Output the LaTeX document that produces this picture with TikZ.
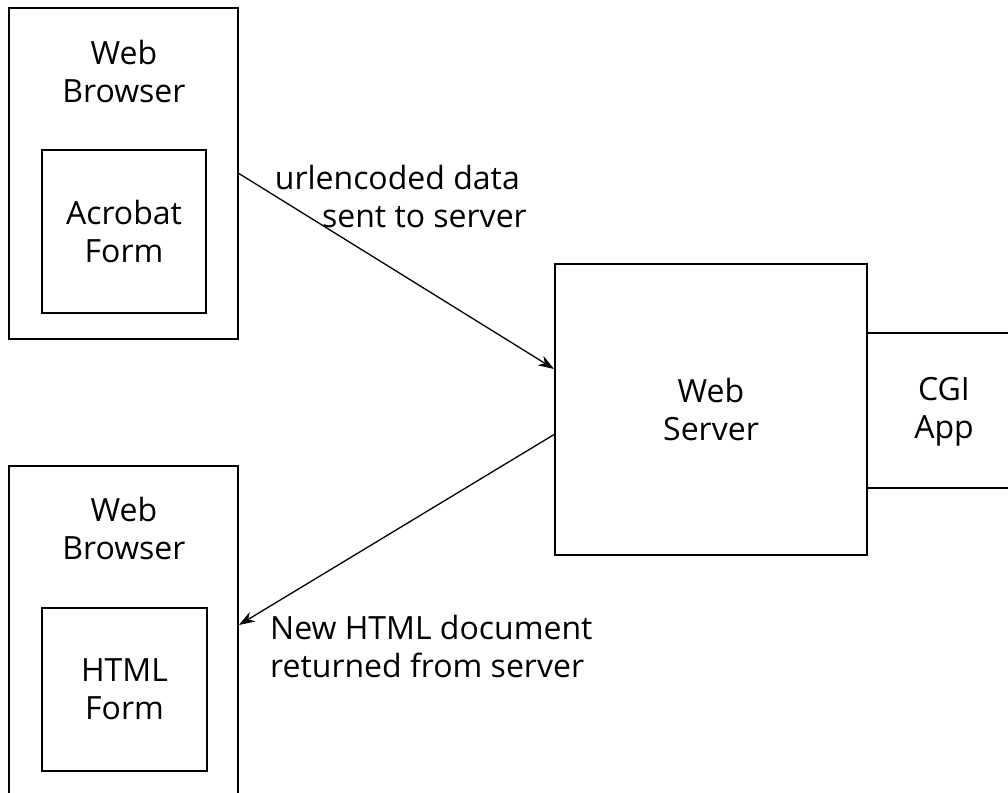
\documentclass[tikz,border=0pt]{standalone}
\usepackage{fontspec}
\setmainfont{Open Sans}
\usetikzlibrary{arrows.meta}
\begin{document}
\begin{tikzpicture}[x=1pt,y=-1pt,
  box/.style={draw,line width=1.8pt,rectangle,inner sep=0pt,
    font=\fontsize{32}{38}\selectfont,align=center},
  lbl/.style={font=\fontsize{32}{38}\selectfont,inner sep=0pt},
  conn/.style={line width=1.3pt,-{Stealth[length=16pt,width=11pt]}}]
\clip (0,0) rectangle (1008,792);
% top browser
\node[box,minimum width=229pt,minimum height=331pt] (tb) at (123.5,173.5) {};
\node[lbl,align=center] (tbt) at (124,71) {Web\\Browser};
\node[box,minimum width=164pt,minimum height=163pt] (af) at (124,231.5) {Acrobat\\Form};
% bottom browser
\node[box,minimum width=229pt,minimum height=334pt] (bb) at (123.5,633) {};
\node[lbl,align=center] (bbt) at (124,528) {Web\\Browser};
\node[box,minimum width=165pt,minimum height=163pt] (hf) at (124.5,689.5) {HTML\\Form};
% server and CGI
\node[box,minimum width=312pt,minimum height=291pt] (srv) at (711,409.5) {Web\\Server};
\node[box,minimum width=153pt,minimum height=155pt] (cgi) at (943.5,410.5) {};
\node[lbl,align=center] (cgit) at (944,412) {CGI\\App};
% connectors
\draw[conn] (tb.east) -- ([yshift=40.5pt]srv.west);
\draw[conn] ([yshift=-25pt]srv.west) -- ([yshift=8pt]bb.east);
% labels
\node[lbl,align=right,anchor=east] (l1) at (527,196) {urlencoded data\hspace*{7pt}\\sent to server};
\node[lbl,align=left,anchor=west] (l2) at (270,646) {New HTML document\\returned from server};
\end{tikzpicture}
\end{document}
